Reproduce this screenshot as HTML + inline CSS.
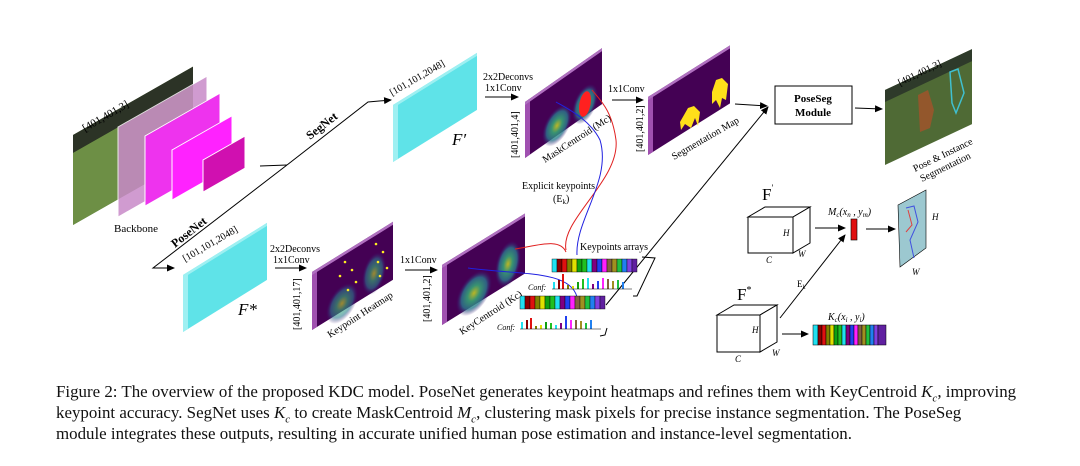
<!DOCTYPE html>
<html><head><meta charset="utf-8"><style>
body{margin:0;background:#fff;width:1080px;height:466px;overflow:hidden}
svg{position:absolute;left:0;top:0}
.cap{position:absolute;left:56px;font-family:"Liberation Serif",serif;font-size:16.9px;color:#111;white-space:nowrap;line-height:20px}
</style></head><body>
<svg width="1080" height="380" viewBox="0 0 1080 380" font-family="Liberation Serif,serif">
<defs>
<marker id="ar" markerWidth="8" markerHeight="8" refX="7" refY="4" orient="auto" markerUnits="userSpaceOnUse"><path d="M0,0.5 L8,4 L0,7.5 z" fill="#000"/></marker>
<radialGradient id="blob"><stop offset="0" stop-color="#d8e219"/><stop offset=".35" stop-color="#35b779"/><stop offset=".7" stop-color="#2a788e"/><stop offset="1" stop-color="#3b0f70" stop-opacity="0"/></radialGradient>
</defs>
<!-- backbone -->
<g transform="matrix(1,-0.57,0,1,73,135)"><rect width="120" height="90" fill="#5a7a3a"/><rect width="120" height="18" fill="#2c3326"/><rect y="18" width="120" height="72" fill="#6d8f45"/></g>
<g transform="matrix(1,-0.57,0,1,118,127)"><rect width="89" height="90" fill="#c88ac8" opacity=".85" stroke="#fff"/></g>
<g transform="matrix(1,-0.57,0,1,145,136)"><rect width="75" height="70" fill="#ee33ee" stroke="#fff"/></g>
<g transform="matrix(1,-0.57,0,1,172,150)"><rect width="60" height="50" fill="#ff22ff" stroke="#fff"/></g>
<g transform="matrix(1,-0.57,0,1,203,160)"><rect width="42" height="32" fill="#d010b0" stroke="#fff"/></g>
<text x="85" y="132" font-size="11" transform="rotate(-30 85 132)">[401,401,3]</text>
<text x="114" y="232" font-size="11">Backbone</text>
<!-- net lines -->
<polyline points="260,166 287,165" fill="none" stroke="#000"/>
<polyline points="287,165 368,102 391,100" fill="none" stroke="#000" marker-end="url(#ar)"/>
<polyline points="287,165 153,268 174,268" fill="none" stroke="#000" marker-end="url(#ar)"/>
<text x="310" y="140" font-size="12" font-weight="bold" transform="rotate(-38 310 140)">SegNet</text>
<text x="175" y="248" font-size="12" font-weight="bold" transform="rotate(-38 175 248)">PoseNet</text>
<!-- F' -->
<g transform="matrix(1,-0.62,0,1,393,105)"><rect width="84" height="57" fill="#5fe3e8"/><rect width="5" height="57" fill="#9ef0f2"/><rect width="84" height="3" fill="#9ef0f2"/></g>
<text x="392" y="96" font-size="10" transform="rotate(-30 392 96)">[101,101,2048]</text>
<text x="452" y="145" font-size="17" font-style="italic">F′</text>
<!-- F* -->
<g transform="matrix(1,-0.62,0,1,183,275)"><rect width="84" height="57" fill="#5fe3e8"/><rect width="5" height="57" fill="#9ef0f2"/><rect width="84" height="3" fill="#9ef0f2"/></g>
<text x="185" y="262" font-size="10" transform="rotate(-30 185 262)">[101,101,2048]</text>
<text x="238" y="315" font-size="17" font-style="italic">F*</text>
<!-- deconv labels -->
<text x="270" y="252" font-size="10">2x2Deconvs</text><text x="273" y="263" font-size="10">1x1Conv</text>
<line x1="275" y1="268" x2="306" y2="268" stroke="#000" marker-end="url(#ar)"/>
<text x="483" y="80" font-size="10">2x2Deconvs</text><text x="485" y="91" font-size="10">1x1Conv</text>
<line x1="485" y1="97" x2="518" y2="97" stroke="#000" marker-end="url(#ar)"/>
<text x="400" y="263" font-size="10">1x1Conv</text>
<line x1="405" y1="270" x2="437" y2="270" stroke="#000" marker-end="url(#ar)"/>
<text x="608" y="92" font-size="10">1x1Conv</text>
<line x1="612" y1="100" x2="643" y2="100" stroke="#000" marker-end="url(#ar)"/>
<!-- heatmap -->
<g transform="matrix(1,-0.62,0,1,312,272)"><rect width="81" height="58" fill="#440154"/><rect width="5" height="58" fill="#a050b0"/><rect width="81" height="3" fill="#b070c0"/>
<ellipse cx="30" cy="50" rx="16" ry="18" fill="url(#blob)" opacity=".6"/><ellipse cx="62" cy="40" rx="12" ry="20" fill="url(#blob)" opacity=".6"/></g>
<g fill="#ffee22"><circle cx="345" cy="262" r="1.3"/><circle cx="352" cy="270" r="1.3"/><circle cx="340" cy="276" r="1.3"/><circle cx="356" cy="282" r="1.3"/><circle cx="348" cy="290" r="1.3"/><circle cx="376" cy="244" r="1.3"/><circle cx="383" cy="252" r="1.3"/><circle cx="378" cy="262" r="1.3"/><circle cx="387" cy="268" r="1.3"/><circle cx="380" cy="276" r="1.3"/></g>
<text x="300" y="330" font-size="10" transform="rotate(-90 300 330)">[401,401,17]</text>
<text x="330" y="338" font-size="10" transform="rotate(-33 330 338)">Keypoint Heatmap</text>
<!-- keycentroid -->
<g transform="matrix(1,-0.62,0,1,442,265)"><rect width="83" height="60" fill="#440154"/><rect width="5" height="60" fill="#a050b0"/><rect width="83" height="3" fill="#b070c0"/>
<ellipse cx="32" cy="48" rx="18" ry="20" fill="url(#blob)" opacity=".8"/><ellipse cx="66" cy="40" rx="13" ry="22" fill="url(#blob)" opacity=".8"/></g>
<text x="430" y="322" font-size="10" transform="rotate(-90 430 322)">[401,401,2]</text>
<text x="462" y="335" font-size="10" transform="rotate(-33 462 335)">KeyCentroid (Kc)</text>
<!-- maskcentroid -->
<g transform="matrix(1,-0.7,0,1,525,102)"><rect width="77" height="56" fill="#440154"/><rect width="5" height="56" fill="#a050b0"/><rect width="77" height="3" fill="#b070c0"/>
<ellipse cx="32" cy="46" rx="15" ry="18" fill="url(#blob)" opacity=".8"/><ellipse cx="60" cy="44" rx="13" ry="18" fill="url(#blob)" opacity=".8"/><ellipse cx="60" cy="44" rx="6" ry="12" fill="#ff2020"/></g>
<text x="518" y="158" font-size="10" transform="rotate(-90 518 158)">[401,401,4]</text>
<text x="545" y="163" font-size="10" transform="rotate(-33 545 163)">MaskCentroid (Mc)</text>
<!-- seg map -->
<g transform="matrix(1,-0.63,0,1,648,97)"><rect width="82" height="58" fill="#440154"/><rect width="5" height="58" fill="#a050b0"/><rect width="82" height="3" fill="#b070c0"/></g>
<path d="M680,122 l8,-14 l6,-2 l6,6 l-2,14 l-3,-8 l-4,10 l-6,-4 l-4,6 z" fill="#ffe01a"/>
<path d="M712,92 l4,-12 l6,-2 l6,6 l-2,16 l-4,-2 l-2,10 l-4,-8 l-4,4 z" fill="#ffe01a"/>
<text x="643" y="152" font-size="10" transform="rotate(-90 643 152)">[401,401,2]</text>
<text x="674" y="160" font-size="10" transform="rotate(-30 674 160)">Segmentation Map</text>
<line x1="735" y1="104" x2="767" y2="106" stroke="#000" marker-end="url(#ar)"/>
<!-- poseseg -->
<rect x="775" y="86" width="77" height="38" fill="#fff" stroke="#000"/>
<text x="813" y="102" font-size="11" font-weight="bold" text-anchor="middle">PoseSeg</text>
<text x="813" y="116" font-size="11" font-weight="bold" text-anchor="middle">Module</text>
<line x1="855" y1="108" x2="882" y2="109" stroke="#000" marker-end="url(#ar)"/>
<g transform="matrix(1,-0.47,0,1,885,90)"><rect width="87" height="75" fill="#4f6a35"/><rect width="87" height="12" fill="#2e3a2a"/></g>
<path d="M918,95 l10,-5 l6,20 l-4,18 l-10,4 z" fill="#b0502a" opacity=".7"/>
<path d="M950,72 l8,-3 l6,24 l-8,20 l-4,-10 z" fill="none" stroke="#40c0d0" stroke-width="1.5"/>
<text x="900" y="86" font-size="10" transform="rotate(-26 900 86)">[401,401,3]</text>
<text x="915" y="172" font-size="10" transform="rotate(-26 915 172)">Pose &amp; Instance</text>
<text x="922" y="182" font-size="10" transform="rotate(-26 922 182)">Segmentation</text>
<!-- explicit keypoints -->
<text x="522" y="189" font-size="10">Explicit keypoints</text>
<text x="553" y="202" font-size="10">(E<tspan font-size="7" dy="2">k</tspan><tspan dy="-2">)</tspan></text>
<path d="M566,250 C560,220 620,180 616,140 C612,110 600,100 592,90" fill="none" stroke="#e02020" stroke-width="1"/>
<path d="M577,255 C575,220 612,180 600,140 C590,120 570,110 556,102" fill="none" stroke="#2020e0" stroke-width="1"/>
<path d="M566,252 C560,238 540,245 515,249" fill="none" stroke="#e02020"/>
<path d="M577,297 C570,270 520,275 468,268" fill="none" stroke="#2020e0"/>
<line x1="606" y1="305" x2="768" y2="107" stroke="#000" marker-end="url(#ar)"/>
<!-- keypoint arrays -->
<text x="580" y="250" font-size="10">Keypoints arrays</text>
<g stroke="#000" stroke-width=".4">
<rect x="552" y="259" width="5" height="13" fill="#20e0f0"/><rect x="557" y="259" width="5" height="13" fill="#8b0000"/><rect x="562" y="259" width="5" height="13" fill="#e01010"/><rect x="567" y="259" width="5" height="13" fill="#808000"/><rect x="572" y="259" width="5" height="13" fill="#e0e000"/><rect x="577" y="259" width="5" height="13" fill="#10a010"/><rect x="582" y="259" width="5" height="13" fill="#20c020"/><rect x="587" y="259" width="5" height="13" fill="#20e0f0"/><rect x="592" y="259" width="5" height="13" fill="#800080"/><rect x="597" y="259" width="5" height="13" fill="#2040f0"/><rect x="602" y="259" width="5" height="13" fill="#ff20ff"/><rect x="607" y="259" width="5" height="13" fill="#806040"/><rect x="612" y="259" width="5" height="13" fill="#a09020"/><rect x="617" y="259" width="5" height="13" fill="#20c040"/><rect x="622" y="259" width="5" height="13" fill="#2080f0"/><rect x="627" y="259" width="5" height="13" fill="#8040e0"/><rect x="632" y="259" width="5" height="13" fill="#6020a0"/>
<rect x="520" y="296" width="5" height="13" fill="#20e0f0"/><rect x="525" y="296" width="5" height="13" fill="#8b0000"/><rect x="530" y="296" width="5" height="13" fill="#e01010"/><rect x="535" y="296" width="5" height="13" fill="#808000"/><rect x="540" y="296" width="5" height="13" fill="#e0e000"/><rect x="545" y="296" width="5" height="13" fill="#10a010"/><rect x="550" y="296" width="5" height="13" fill="#20c020"/><rect x="555" y="296" width="5" height="13" fill="#20e0f0"/><rect x="560" y="296" width="5" height="13" fill="#800080"/><rect x="565" y="296" width="5" height="13" fill="#2040f0"/><rect x="570" y="296" width="5" height="13" fill="#ff20ff"/><rect x="575" y="296" width="5" height="13" fill="#806040"/><rect x="580" y="296" width="5" height="13" fill="#a09020"/><rect x="585" y="296" width="5" height="13" fill="#20c040"/><rect x="590" y="296" width="5" height="13" fill="#2080f0"/><rect x="595" y="296" width="5" height="13" fill="#8040e0"/><rect x="600" y="296" width="5" height="13" fill="#6020a0"/>
</g>
<text x="528" y="290" font-size="8" font-style="italic">Conf:</text>
<g><rect x="553" y="282" width="2" height="7" fill="#20e0f0"/><rect x="558" y="280" width="2" height="9" fill="#8b0000"/><rect x="562" y="274" width="2" height="15" fill="#e01010"/><rect x="567" y="285" width="2" height="4" fill="#808000"/><rect x="572" y="286" width="2" height="3" fill="#e0e000"/><rect x="577" y="282" width="2" height="7" fill="#10a010"/><rect x="582" y="279" width="2" height="10" fill="#20c020"/><rect x="587" y="278" width="2" height="11" fill="#20e0f0"/><rect x="592" y="284" width="2" height="5" fill="#800080"/><rect x="597" y="281" width="2" height="8" fill="#2040f0"/><rect x="602" y="278" width="2" height="11" fill="#ff20ff"/><rect x="607" y="279" width="2" height="10" fill="#806040"/><rect x="612" y="281" width="2" height="8" fill="#a09020"/><rect x="617" y="280" width="2" height="9" fill="#20c040"/><rect x="622" y="282" width="2" height="7" fill="#2080f0"/><line x1="552" y1="289" x2="632" y2="289" stroke="#000" stroke-width=".6"/></g>
<text x="497" y="330" font-size="8" font-style="italic">Conf:</text>
<g><rect x="521" y="322" width="2" height="7" fill="#20e0f0"/><rect x="526" y="320" width="2" height="9" fill="#8b0000"/><rect x="530" y="318" width="2" height="11" fill="#e01010"/><rect x="535" y="326" width="2" height="3" fill="#808000"/><rect x="540" y="325" width="2" height="4" fill="#e0e000"/><rect x="545" y="322" width="2" height="7" fill="#10a010"/><rect x="550" y="323" width="2" height="6" fill="#20c020"/><rect x="555" y="325" width="2" height="4" fill="#20e0f0"/><rect x="560" y="323" width="2" height="6" fill="#800080"/><rect x="565" y="316" width="2" height="13" fill="#2040f0"/><rect x="570" y="320" width="2" height="9" fill="#ff20ff"/><rect x="575" y="320" width="2" height="9" fill="#806040"/><rect x="580" y="321" width="2" height="8" fill="#a09020"/><rect x="585" y="323" width="2" height="6" fill="#20c040"/><rect x="590" y="320" width="2" height="9" fill="#2080f0"/><line x1="520" y1="329" x2="601" y2="329" stroke="#000" stroke-width=".6"/></g>
<polyline points="642,257 655,258 637,296 633,296" fill="none" stroke="#000"/>
<polyline points="607,328 605,335 600,336" fill="none" stroke="#000"/>
<!-- lower right cubes -->
<g fill="#fff" stroke="#000" stroke-width="1">
<polygon points="748,217 765,207 810,207 793,217"/><polygon points="793,217 810,207 810,243 793,253"/><rect x="748" y="217" width="45" height="36"/>
<polygon points="717,315 734,305 777,305 760,315"/><polygon points="760,315 777,305 777,342 760,352"/><rect x="717" y="315" width="43" height="37"/>
</g>
<text x="762" y="200" font-size="17">F<tspan font-size="9" dy="-9">′</tspan></text>
<text x="737" y="300" font-size="17">F<tspan font-size="10" dy="-7">*</tspan></text>
<text x="783" y="236" font-size="9" font-style="italic">H</text><text x="766" y="263" font-size="9" font-style="italic">C</text><text x="798" y="257" font-size="9" font-style="italic">W</text>
<text x="752" y="333" font-size="9" font-style="italic">H</text><text x="735" y="362" font-size="9" font-style="italic">C</text><text x="772" y="356" font-size="9" font-style="italic">W</text>
<line x1="815" y1="228" x2="845" y2="228" stroke="#000" marker-end="url(#ar)"/>
<line x1="780" y1="318" x2="845" y2="235" stroke="#000" marker-end="url(#ar)"/>
<text x="797" y="287" font-size="9">E<tspan font-size="6" dy="2">k</tspan></text>
<rect x="851" y="219" width="6" height="21" fill="#e01010" stroke="#000" stroke-width=".6"/>
<text x="828" y="215" font-size="10" font-style="italic">M<tspan font-size="7" dy="2">c</tspan><tspan dy="-2">(x</tspan><tspan font-size="7" dy="2">n</tspan><tspan dy="-2"> , y</tspan><tspan font-size="7" dy="2">m</tspan><tspan dy="-2">)</tspan></text>
<line x1="866" y1="229" x2="895" y2="229" stroke="#000" marker-end="url(#ar)"/>
<polygon points="898,205 926,190 926,248 900,267" fill="#9cc8d0" stroke="#000" stroke-width=".6"/>
<polyline points="906,208 914,206 918,222 910,240 914,258" fill="none" stroke="#4050e0"/>
<polyline points="908,210 912,225 906,232" fill="none" stroke="#e04040"/>
<text x="932" y="220" font-size="9" font-style="italic">H</text><text x="912" y="275" font-size="9" font-style="italic">W</text>
<line x1="782" y1="334" x2="808" y2="334" stroke="#000" marker-end="url(#ar)"/>
<text x="828" y="320" font-size="10" font-style="italic">K<tspan font-size="7" dy="2">c</tspan><tspan dy="-2">(x</tspan><tspan font-size="7" dy="2">i</tspan><tspan dy="-2"> , y</tspan><tspan font-size="7" dy="2">i</tspan><tspan dy="-2">)</tspan></text>
<g stroke="#000" stroke-width=".5">
<rect x="813" y="325" width="5" height="20" fill="#20e0f0"/><rect x="818" y="325" width="4" height="20" fill="#8b0000"/><rect x="822" y="325" width="4" height="20" fill="#e01010"/><rect x="826" y="325" width="4" height="20" fill="#808000"/><rect x="830" y="325" width="4" height="20" fill="#e0e000"/><rect x="834" y="325" width="4" height="20" fill="#10a010"/><rect x="838" y="325" width="4" height="20" fill="#20c020"/><rect x="842" y="325" width="4" height="20" fill="#20e0f0"/><rect x="846" y="325" width="4" height="20" fill="#800080"/><rect x="850" y="325" width="4" height="20" fill="#2040f0"/><rect x="854" y="325" width="4" height="20" fill="#ff20ff"/><rect x="858" y="325" width="4" height="20" fill="#806040"/><rect x="862" y="325" width="4" height="20" fill="#a09020"/><rect x="866" y="325" width="4" height="20" fill="#20c040"/><rect x="870" y="325" width="4" height="20" fill="#2080f0"/><rect x="874" y="325" width="4" height="20" fill="#8040e0"/><rect x="878" y="325" width="8" height="20" fill="#6020a0"/>
</g>
</svg>
<div class="cap" style="top:382px">Figure 2: The overview of the proposed KDC model. PoseNet generates keypoint heatmaps and refines them with KeyCentroid <i>K<sub style="font-size:11px">c</sub></i>, improving</div>
<div class="cap" style="top:403px">keypoint accuracy. SegNet uses <i>K<sub style="font-size:11px">c</sub></i> to create MaskCentroid <i>M<sub style="font-size:11px">c</sub></i>, clustering mask pixels for precise instance segmentation. The PoseSeg</div>
<div class="cap" style="top:424px">module integrates these outputs, resulting in accurate unified human pose estimation and instance-level segmentation.</div>
</body></html>
